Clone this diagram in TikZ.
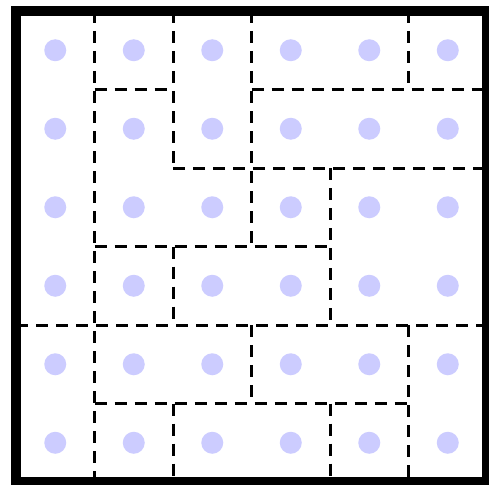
\documentclass[tikz,border=0pt]{standalone}
\begin{document}
\begin{tikzpicture}[x=1pt,y=-1pt,
  dot/.style={fill=dotblue,draw=none},
  wall/.style={line width=3pt,dash pattern=on 12pt off 8pt},
  frame/.style={line width=10pt}]
\definecolor{dotblue}{RGB}{204,204,255}
\useasboundingbox (0,0) rectangle (489,484);
\clip (0,0) rectangle (489,484);
\fill[white] (0,0) rectangle (489,484);
\def\cs{78.5}
% dots
\foreach \c in {0,...,5}{
  \foreach \r in {0,...,5}{
    \fill[dot] ({16+\cs*(\c+0.5)},{11+\cs*(\r+0.5)}) circle (11);
  }
}
% vertical walls: column boundary k, rows a to b
\foreach \k/\a/\b in {1/0/6, 2/0/2, 2/3/4, 2/5/6, 3/0/3, 3/4/5, 4/2/4, 4/5/6, 5/0/1, 5/4/6}{
  \draw[wall] ({16+\cs*\k},{11+\cs*\a}) -- ({16+\cs*\k},{11+\cs*\b});
}
% horizontal walls: row boundary k, columns a to b
\foreach \k/\a/\b in {1/1/2, 1/3/6, 2/2/6, 3/1/4, 4/0/6, 5/1/5}{
  \draw[wall] ({16+\cs*\a},{11+\cs*\k}) -- ({16+\cs*\b},{11+\cs*\k});
}
% frame
\draw[frame] (16,11) rectangle (487,482);
\end{tikzpicture}
\end{document}
